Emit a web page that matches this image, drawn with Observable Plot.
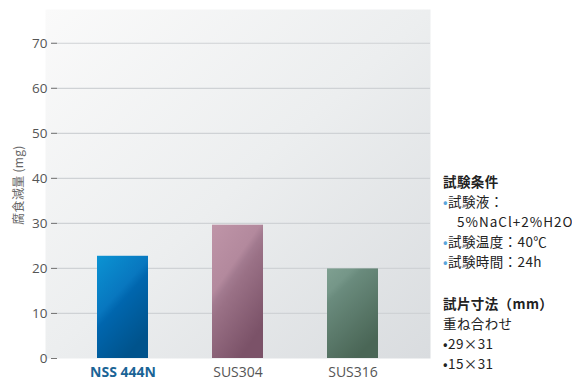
<!DOCTYPE html>
<html>
<head>
<meta charset="utf-8">
<script src="https://cdn.jsdelivr.net/npm/d3@7"></script>
<script src="https://cdn.jsdelivr.net/npm/@observablehq/plot@0.6"></script>
<style>
  html, body { margin: 0; padding: 0; background: #fff; overflow: hidden; width: 572px; height: 382px; }
  #wrap { position: relative; width: 572px; height: 382px; overflow: hidden; }
  #notes { position: absolute; left: 443px; top: 171px; font-family: "Noto Sans CJK JP", sans-serif; font-size: 13.5px; letter-spacing: 0.4px; color: #222; line-height: 20px; white-space: nowrap; }
  #notes .h { font-weight: bold; }
  #notes .b { color: #5aa6dc; }
  #notes .ind { padding-left: 14px; letter-spacing: 1px; }
  #notes .gap { height: 22px; }
  #ylab { position: absolute; left: 17px; top: 185px; transform: translate(-50%, -50%) rotate(-90deg); transform-origin: center; font-family: "Noto Sans CJK JP", sans-serif; font-size: 12px; letter-spacing: 0.3px; color: #666; white-space: nowrap; }
</style>
</head>
<body>
<div id="wrap"></div>
<script>
const categories = ["NSS 444N", "SUS304", "SUS316"];
const values = [22.7, 29.6, 19.9];
const gradIds = ["gNSS", "g304", "g316"];
const yTicks = [0, 10, 20, 30, 40, 50, 60, 70];
const yLabel = "腐食減量 (mg)";
const notesHead1 = "試験条件";
const notesLines1 = ["試験液：", "5%NaCl+2%H2O", "試験温度：40℃", "試験時間：24h"];
const notesHead2 = "試片寸法（mm）";
const notesLines2 = ["重ね合わせ", "29×31", "15×31"];

const data = categories.map((c, i) => ({cat: c, value: values[i], grad: `url(#${gradIds[i]})`}));

const chart = Plot.plot({
  width: 572,
  height: 382,
  marginLeft: 51,
  marginRight: 142,
  marginTop: 9,
  marginBottom: 24,
  style: {background: "transparent", fontFamily: "'Open Sans', sans-serif"},
  x: {domain: categories, paddingInner: 0.56, paddingOuter: 0.42, align: 0.47, label: null},
  y: {domain: [0, 77.5], label: null},
  color: {type: "identity"},
  marks: [
    Plot.frame({fill: "url(#gBg)", stroke: "none", insetLeft: -6}),
    Plot.ruleY(yTicks.filter(d => d > 0), {stroke: "#cfd2d5", strokeWidth: 1.2}),
    Plot.barY(data, {x: "cat", y: "value", fill: "grad"}),
    Plot.axisY(yTicks, {tickSize: 6, tickPadding: 4, tickFormat: d => d, label: null, stroke: "#777", fill: "#555", fontSize: 13.5, dx: 6, textAnchor: "end"}),
    Plot.axisX({tickSize: 0, tickPadding: 9, label: null, fontSize: 14, fill: "#555"})
  ]
});

// gradients
const svg = d3.select(chart);
const defs = svg.insert("defs", ":first-child");
function grad(id, stops, x2 = 0.55, y2 = 1) {
  const g = defs.append("linearGradient").attr("id", id)
    .attr("x1", 0).attr("y1", 0).attr("x2", x2).attr("y2", y2);
  stops.forEach(([o, c]) => g.append("stop").attr("offset", o).attr("stop-color", c));
}
grad("gBg", [[0, "#fafafa"], [0.5, "#eceeef"], [1, "#d9dcdf"]], 1, 1);
grad("gNSS", [[0, "#0b93d3"], [0.45, "#0877bf"], [0.55, "#0066ae"], [1, "#00538c"]]);
grad("g304", [[0, "#bf95a8"], [0.4, "#b3899d"], [0.47, "#a27a8f"], [0.55, "#9a7186"], [1, "#7b5268"]]);
grad("g316", [[0, "#7fa091"], [0.22, "#759688"], [0.3, "#6a8b7d"], [1, "#4a6656"]]);

// style the first x tick label
svg.selectAll("[aria-label='x-axis tick label'] text")
  .filter(function() { return this.textContent === categories[0]; })
  .attr("fill", "#1a6496").attr("font-weight", "bold");

const wrap = document.getElementById("wrap");
wrap.appendChild(chart);

const yl = document.createElement("div");
yl.id = "ylab";
yl.textContent = yLabel;
wrap.appendChild(yl);

const notes = document.createElement("div");
notes.id = "notes";
let html = `<div class="h">${notesHead1}</div>`;
html += `<div><span class="b">•</span>${notesLines1[0]}</div>`;
html += `<div class="ind">${notesLines1[1]}</div>`;
html += `<div><span class="b">•</span>${notesLines1[2]}</div>`;
html += `<div><span class="b">•</span>${notesLines1[3]}</div>`;
html += `<div class="gap"></div>`;
html += `<div class="h">${notesHead2}</div>`;
html += `<div>${notesLines2[0]}</div>`;
html += `<div>•${notesLines2[1]}</div>`;
html += `<div>•${notesLines2[2]}</div>`;
notes.innerHTML = html;
wrap.appendChild(notes);
</script>
</body>
</html>
